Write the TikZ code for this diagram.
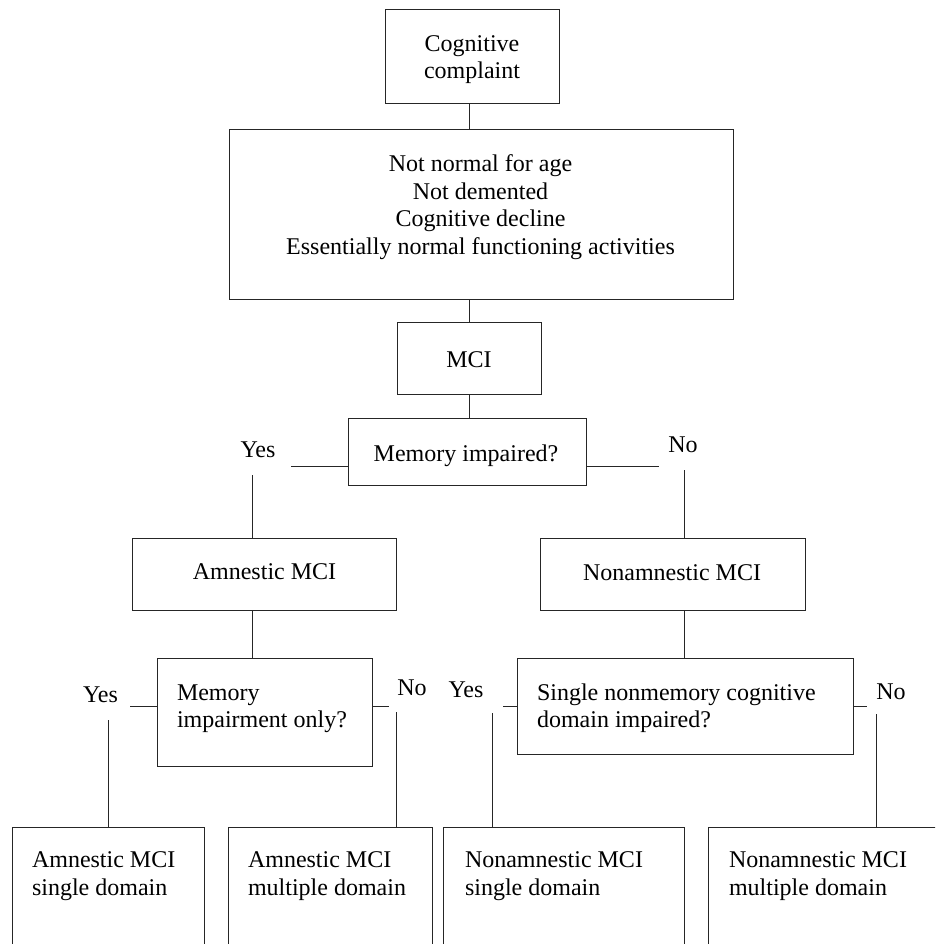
\documentclass[tikz,border=0pt]{standalone}
\usepackage{fontspec}
\setmainfont{Liberation Serif}
\usetikzlibrary{fit}
\begin{document}
\begin{tikzpicture}[x=1pt,y=-1pt,
  box/.style={draw=black!85, line width=1pt, inner sep=0pt, outer sep=0pt, rectangle},
  lin/.style={draw=black!85, line width=1pt},
  txt/.style={inner sep=0pt, outer sep=0pt, font=\fontsize{24}{28}\selectfont, text=black}]
\useasboundingbox (0,0) rectangle (935,944);
\fill[white] (0,0) rectangle (935,944);
\clip (0,0) rectangle (935,944);

% boxes
\node[box, fit={(385,10) (559,104)}] (cc) {};
\node[box, fit={(229,130) (733,299)}] (crit) {};
\node[box, fit={(397,322) (541,394)}] (mci) {};
\node[box, fit={(348,418) (586,485)}] (memq) {};
\node[box, fit={(132,538) (396,610)}] (amn) {};
\node[box, fit={(540,538) (805,610)}] (non) {};
\node[box, fit={(157,658) (372,766)}] (memonly) {};
\node[box, fit={(517,658) (853,754)}] (single) {};
\node[box, fit={(12,827) (204,965)}] (as) {};
\node[box, fit={(228,827) (432,965)}] (am) {};
\node[box, fit={(443,827) (684,965)}] (ns) {};
\node[box, fit={(708,827) (965,965)}] (nm) {};

% texts
\node[txt, anchor=base] (cc1) at (472,52) {Cognitive};
\node[txt, anchor=base] (cc2) at (472,79) {complaint};
\node[txt, anchor=base] (cr1) at (480.5,171.5) {Not normal for age};
\node[txt, anchor=base] (cr2) at (480.5,199.2) {Not demented};
\node[txt, anchor=base] (cr3) at (480.5,226.9) {Cognitive decline};
\node[txt, anchor=base] (cr4) at (480.5,254.6) {Essentially normal functioning activities};
\node[txt, anchor=base] (mcit) at (469,367) {MCI};
\node[txt, anchor=base] (memqt) at (466,461) {Memory impaired?};
\node[txt, anchor=base] (amnt) at (264.5,579) {Amnestic MCI};
\node[txt, anchor=base] (nont) at (672,580) {Nonamnestic MCI};
\node[txt, anchor=base west] (mo1) at (177,700) {Memory};
\node[txt, anchor=base west] (mo2) at (177,727.7) {impairment only?};
\node[txt, anchor=base west] (sn1) at (537,700) {Single nonmemory cognitive};
\node[txt, anchor=base west] (sn2) at (537,727.7) {domain impaired?};
\node[txt, anchor=base west] (as1) at (32,867.7) {Amnestic MCI};
\node[txt, anchor=base west] (as2) at (32,895.5) {single domain};
\node[txt, anchor=base west] (am1) at (248,867.7) {Amnestic MCI};
\node[txt, anchor=base west] (am2) at (248,895.5) {multiple domain};
\node[txt, anchor=base west] (ns1) at (465,867.7) {Nonamnestic MCI};
\node[txt, anchor=base west] (ns2) at (465,895.5) {single domain};
\node[txt, anchor=base west] (nm1) at (729,867.7) {Nonamnestic MCI};
\node[txt, anchor=base west] (nm2) at (729,895.5) {multiple domain};

% yes / no labels
\node[txt, anchor=base] (y1) at (258,457) {Yes};
\node[txt, anchor=base] (n1) at (683,452) {No};
\node[txt, anchor=base] (y2) at (100.5,702) {Yes};
\node[txt, anchor=base] (n2) at (412,695) {No};
\node[txt, anchor=base] (y3) at (466,697) {Yes};
\node[txt, anchor=base] (n3) at (891,699) {No};

% coordinates for free ends
\coordinate (y1h) at (291,466);
\coordinate (y1v) at (252.3,475);
\coordinate (n1h) at (659,466);
\coordinate (n1v) at (684.3,470);
\coordinate (y2h) at (130,706.3);
\coordinate (y2v) at (108,720.3);
\coordinate (n2h) at (388.7,706.3);
\coordinate (n2v) at (396.3,712.3);
\coordinate (y3h) at (503.3,706.3);
\coordinate (y3v) at (492.3,713.3);
\coordinate (n3h) at (866.7,706.3);
\coordinate (n3v) at (876.7,714.3);

% connectors
\draw[lin] (cc.south -| mci.north) -- (crit.north -| mci.north);
\draw[lin] (crit.south -| mci.north) -- (mci.north);
\draw[lin] (mci.south) -- (memq.north -| mci.south);
\draw[lin] (memq.west |- y1h) -- (y1h);
\draw[lin] (y1v) -- (y1v |- amn.north);
\draw[lin] (memq.east |- n1h) -- (n1h);
\draw[lin] (n1v) -- (n1v |- non.north);
\draw[lin] (amn.south -| y1v) -- (memonly.north -| y1v);
\draw[lin] (non.south -| n1v) -- (single.north -| n1v);
\draw[lin] (y2h) -- (memonly.west |- y2h);
\draw[lin] (y2v) -- (y2v |- as.north);
\draw[lin] (memonly.east |- n2h) -- (n2h);
\draw[lin] (n2v) -- (n2v |- am.north);
\draw[lin] (y3h) -- (single.west |- y3h);
\draw[lin] (y3v) -- (y3v |- ns.north);
\draw[lin] (single.east |- n3h) -- (n3h);
\draw[lin] (n3v) -- (n3v |- nm.north);
\end{tikzpicture}
\end{document}
